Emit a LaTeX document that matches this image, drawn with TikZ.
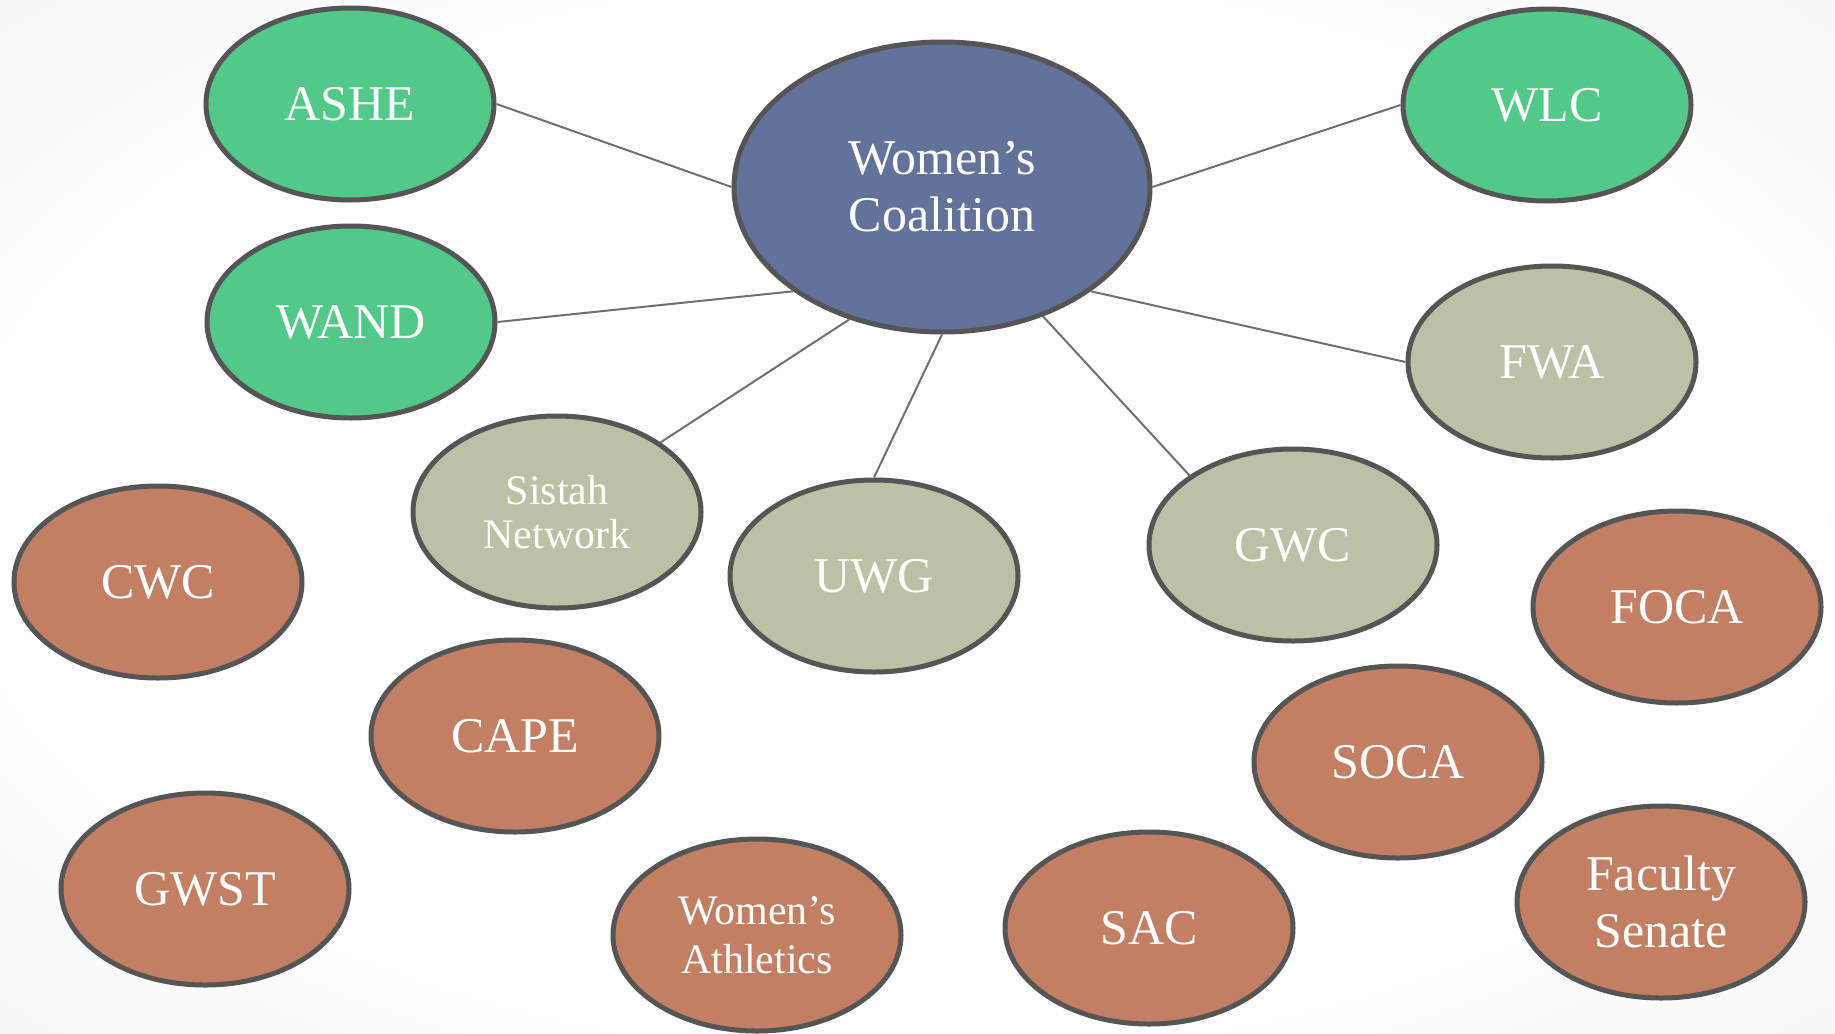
\documentclass[tikz,border=0pt]{standalone}
\usepackage{fontspec}
\setmainfont{Liberation Serif}
\usetikzlibrary{shapes.geometric}
\definecolor{ovalline}{HTML}{555555}
\definecolor{linkgray}{HTML}{707070}
\definecolor{coalblue}{HTML}{62729B}
\definecolor{partgreen}{HTML}{52C988}
\definecolor{partkhaki}{HTML}{BEC0A6}
\definecolor{partclay}{HTML}{C27F64}
\pgfdeclareradialshading{slidebg}{\pgfpoint{0bp}{0bp}}{color(0bp)=(white); color(24bp)=(white); color(50bp)=(gray!13); color(71bp)=(gray!21)}
\begin{document}
\begin{tikzpicture}[x=1pt,y=-1pt,
    oval/.style={ellipse,draw=ovalline,line width=5pt,inner sep=0pt,
      minimum width=288pt,minimum height=192pt,text=white,align=center,
      font=\fontsize{50}{57}\selectfont},
    small/.style={font=\fontsize{42}{#1}\selectfont},
    link/.style={draw=linkgray,line width=2pt}]
  \useasboundingbox (0,0) rectangle (1835,1033);
  \shade[shading=slidebg] (0,0) rectangle (1835,1033);
  % centre
  \node[oval,fill=coalblue,minimum width=416pt,minimum height=290pt] (wc) at (942,187) {Women’s\\Coalition};
  % linked groups
  \node[oval,fill=partgreen] (ashe) at (350,104) {ASHE};
  \node[oval,fill=partgreen] (wand) at (351,322) {WAND};
  \node[oval,fill=partgreen] (wlc) at (1547,105) {WLC};
  \node[oval,fill=partkhaki] (fwa) at (1552,362) {FWA};
  \node[oval,fill=partkhaki,small=44] (sistah) at (557,512) {Sistah\\Network};
  \node[oval,fill=partkhaki] (uwg) at (874,576) {UWG};
  \node[oval,fill=partkhaki] (gwc) at (1293,545) {GWC};
  % other groups
  \node[oval,fill=partclay] (cwc) at (158,582) {CWC};
  \node[oval,fill=partclay] (foca) at (1677,607) {FOCA};
  \node[oval,fill=partclay] (cape) at (515,736) {CAPE};
  \node[oval,fill=partclay] (soca) at (1398,762) {SOCA};
  \node[oval,fill=partclay] (gwst) at (205,889) {GWST};
  \node[oval,fill=partclay,small=49] (athl) at (757,935) {Women’s\\Athletics};
  \node[oval,fill=partclay] (sac) at (1149,928) {SAC};
  \node[oval,fill=partclay] (senate) at (1661,902) {Faculty\\Senate};
  % connectors
  \draw[link] (ashe.east) -- (wc.west);
  \draw[link] (wlc.west) -- (wc.east);
  \draw[link] (wand.east) -- (wc.south west);
  \draw[link] (fwa.west) -- (wc.south east);
  \draw[link] (sistah.north east) -- (wc.235);
  \draw[link] (uwg.north) -- (wc.south);
  \draw[link] (gwc.north west) -- (wc.-52);
\end{tikzpicture}
\end{document}
